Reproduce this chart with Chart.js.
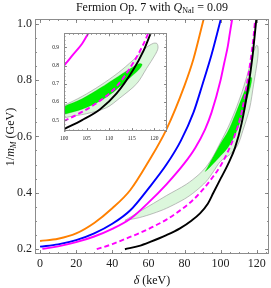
<!DOCTYPE html>
<html><head><meta charset="utf-8">
<script src="https://cdn.jsdelivr.net/npm/chart.js@4.4.1/dist/chart.umd.min.js"></script>
<style>
body{margin:0;background:#fff;}
#wrap{position:relative;width:271px;height:288px;overflow:hidden;font-family:"Liberation Serif","Times New Roman",serif;color:#111;}
.lbl{position:absolute;font-size:12px;line-height:14px;text-align:center;white-space:nowrap;}
sub{font-size:8px;vertical-align:-2px;line-height:0;}
</style></head>
<body>
<div id="wrap">
<canvas id="main" width="271" height="288" style="position:absolute;left:0;top:0"></canvas>
<div style="position:absolute;left:45px;top:25px;width:125px;height:120px"><canvas id="inset" width="125" height="120"></canvas></div>
<div class="lbl" style="left:35px;top:0px;width:234px;">Fermion Op. 7 with <i>Q</i><sub>NaI</sub> = 0.09</div>
<div class="lbl" style="left:35px;top:273px;width:234px;"><i>δ</i> (keV)</div>
<div class="lbl" style="left:-70px;top:130px;width:160px;height:14px;transform:rotate(-90deg);">1/<i>m</i><sub><i>M</i></sub> (GeV)</div>
</div>
<script>
// ---- data (δ in keV, 1/m_M in GeV) ----
const orangeX = [0,10,20,30,40,50,60,70,80,85,90,91];
const orangeY = [0.229,0.237,0.256,0.293,0.345,0.41,0.51,0.625,0.78,0.875,1.0,1.025];
const blueX = [0,10,20,30,40,50,60,70,78,85,90,95,99.5,100.5];
const blueY = [0.209,0.217,0.232,0.256,0.29,0.338,0.415,0.5,0.585,0.685,0.785,0.89,1.0,1.025];
const magentaX = [1.3,10,20,30,40,50,60,70,80,86,91.4,95,100,102,104,105.1,106,107];
const magentaY = [0.201,0.21,0.225,0.245,0.272,0.308,0.365,0.43,0.505,0.56,0.625,0.685,0.80,0.86,0.92,0.965,1.0,1.04];
const dashedX = [31.4,40,47,55,62.7,70,77,84,90,95,100,104,107.9,111.6,115.3,118.3,119.2];
const dashedY = [0.2,0.218,0.236,0.257,0.28,0.305,0.335,0.37,0.41,0.45,0.496,0.545,0.605,0.684,0.814,0.957,1.02];
const blackX = [47,55,61,70,77.5,84,88.6,93,96,100,104,108,111.6,115.3,117.6,119,120];
const blackY = [0.2,0.212,0.226,0.25,0.274,0.302,0.327,0.362,0.40,0.45,0.5,0.56,0.645,0.775,0.88,0.965,1.03];
// light band outline (closed)
const bandX = [47,55,62.7,70,81,88,92,96,100,104,108,112,115.3,118.3,119.8,120.6,120.8,120.2,118.3,116.1,112.4,109.4,105,100,96,92,86,80,70,62.7,55,47];
const bandY = [0.302,0.333,0.362,0.39,0.43,0.465,0.492,0.53,0.58,0.63,0.69,0.76,0.83,0.9,0.922,0.92,0.895,0.86,0.785,0.70,0.622,0.568,0.535,0.512,0.475,0.44,0.405,0.378,0.345,0.327,0.312,0.302];
// bright green band outline (closed)
const greenX = [91.4,94,97,100,104,108,112,115,116.6,117.3,116.5,114,111,108,104,100,97,94,91.4];
const greenY = [0.475,0.505,0.54,0.575,0.617,0.676,0.74,0.788,0.81,0.805,0.775,0.72,0.655,0.605,0.56,0.531,0.51,0.49,0.475];
// ticks
const mainXTicks = [0,20,40,60,80,100,120];
const mainYTicks = [0.2,0.4,0.6,0.8,1.0];
const insetXTicks = [100,105,110,115,120];
const insetYTicks = [0.5,0.6,0.7,0.8,0.9];

const pts = (xs, ys) => xs.map((x, i) => ({x, y: ys[i]}));
function steps(a, b, s) { const r = []; for (let v = a; v <= b + 1e-9; v += s) r.push(+v.toFixed(4)); return r; }

function datasets(lw) {
  const line = (xs, ys, color, extra) => Object.assign({
    data: pts(xs, ys), showLine: true, borderColor: color, borderWidth: lw,
    pointRadius: 0, fill: false, cubicInterpolationMode: 'monotone'
  }, extra || {});
  return [
    line(blackX, blackY, '#000000'),
    line(dashedX, dashedY, '#ff00ff', {borderDash: [5, 3]}),
    line(magentaX, magentaY, '#ff00ff'),
    line(blueX, blueY, '#0000ff'),
    line(orangeX, orangeY, '#ff8000'),
    {data: pts(greenX, greenY), showLine: true, borderColor: 'rgba(0,170,0,0.5)', borderWidth: 0.5,
     backgroundColor: '#00f000', pointRadius: 0, fill: 'shape', tension: 0.3},
    {data: pts(bandX, bandY), showLine: true, borderColor: '#a0a0a0', borderWidth: 0.7,
     backgroundColor: '#dcf7dc', pointRadius: 0, fill: 'shape', tension: 0.3}
  ];
}

function framePlugin(cfg) {
  return {
    id: 'frame',
    beforeDraw(chart) {
      if (!cfg.bg) return;
      const a = chart.chartArea, ctx = chart.ctx;
      ctx.save(); ctx.fillStyle = '#ffffff';
      ctx.fillRect(a.left, a.top, a.right - a.left, a.bottom - a.top);
      ctx.restore();
    },
    afterDraw(chart) {
      const a = chart.chartArea, ctx = chart.ctx, xs = chart.scales.x, ys = chart.scales.y;
      ctx.save();
      ctx.strokeStyle = '#707070'; ctx.lineWidth = 0.8;
      const tick = (vals, len) => {
        ctx.beginPath();
        vals.x.forEach(v => {
          if (v < xs.min || v > xs.max) return;
          const p = Math.round(xs.getPixelForValue(v)) + 0.5;
          ctx.moveTo(p, a.bottom); ctx.lineTo(p, a.bottom - len);
          ctx.moveTo(p, a.top); ctx.lineTo(p, a.top + len);
        });
        vals.y.forEach(v => {
          if (v < ys.min || v > ys.max) return;
          const p = Math.round(ys.getPixelForValue(v)) + 0.5;
          ctx.moveTo(a.left, p); ctx.lineTo(a.left + len, p);
          ctx.moveTo(a.right, p); ctx.lineTo(a.right - len, p);
        });
        ctx.stroke();
      };
      tick({x: cfg.xMajor, y: cfg.yMajor}, cfg.major);
      tick({x: cfg.xMinor, y: cfg.yMinor}, cfg.minor);
      ctx.strokeStyle = '#8c8c8c'; ctx.lineWidth = 1;
      ctx.strokeRect(Math.round(a.left) + 0.5, Math.round(a.top) + 0.5,
                     Math.round(a.right - a.left) - 1, Math.round(a.bottom - a.top) - 1);
      ctx.restore();
    }
  };
}

function makeChart(id, o) {
  return new Chart(document.getElementById(id), {
    type: 'scatter',
    data: {datasets: datasets(o.lw)},
    options: {
      responsive: false, animation: false, devicePixelRatio: 1,
      layout: {padding: {top: o.padTop, right: o.padRight, left: 0, bottom: 0}},
      plugins: {legend: {display: false}, tooltip: {enabled: false}, title: {display: false}},
      scales: {
        x: {
          type: 'linear', min: o.xmin, max: o.xmax,
          grid: {display: false, drawTicks: false}, border: {display: false},
          afterFit: s => { s.height = o.xh; },
          afterBuildTicks: s => { s.ticks = o.xTicks.map(v => ({value: v})); },
          ticks: {padding: o.xpad, color: '#222', font: {family: 'Liberation Serif', size: o.fs},
                  callback: v => String(v), maxRotation: 0, autoSkip: false}
        },
        y: {
          type: 'linear', min: o.ymin, max: o.ymax,
          grid: {display: false, drawTicks: false}, border: {display: false},
          afterFit: s => { s.width = o.yw; },
          afterBuildTicks: s => { s.ticks = o.yTicks.map(v => ({value: v})); },
          ticks: {padding: o.ypad, color: '#222', font: {family: 'Liberation Serif', size: o.fs},
                  callback: v => v.toFixed(1), autoSkip: false}
        }
      }
    },
    plugins: [framePlugin(o.frame)]
  });
}

makeChart('main', {
  lw: 1.9, padTop: 19, padRight: 2, xh: 34, yw: 35, xpad: 3, ypad: 3, fs: 12,
  xmin: -2.8, xmax: 126.8, ymin: 0.183, ymax: 1.016,
  xTicks: mainXTicks, yTicks: mainYTicks,
  frame: {bg: false, major: 4, minor: 2, xMajor: mainXTicks, yMajor: mainYTicks,
          xMinor: steps(0, 125, 5), yMinor: steps(0.2, 1.0, 0.05)}
});

makeChart('inset', {
  lw: 1.9, padTop: 3, padRight: 3, xh: 14, yw: 19, xpad: 4, ypad: 5, fs: 5.5,
  xmin: 100, xmax: 122.8, ymin: 0.44, ymax: 0.977,
  xTicks: insetXTicks, yTicks: insetYTicks,
  frame: {bg: true, major: 3, minor: 1.5, xMajor: insetXTicks, yMajor: insetYTicks,
          xMinor: steps(100, 122, 1), yMinor: steps(0.44, 0.96, 0.02)}
});
</script>
</body></html>
